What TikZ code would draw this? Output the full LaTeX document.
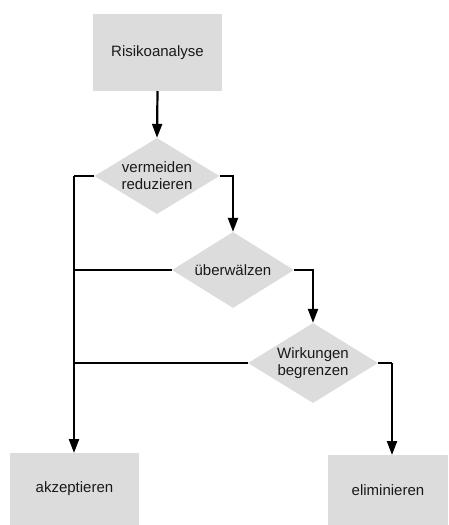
\documentclass[tikz,border=0pt]{standalone}
\usepackage{fontspec}
\setmainfont{Liberation Sans}
\usetikzlibrary{shapes.geometric,arrows.meta}
\definecolor{boxgray}{RGB}{220,220,220}
\begin{document}
\begin{tikzpicture}[x=1pt,y=-1pt,
  txt/.style={font=\fontsize{15}{17}\selectfont, text=black!90, align=center},
  rectbox/.style={txt, fill=boxgray, draw=none, inner sep=0pt},
  decision/.style={diamond, fill=boxgray, draw=none, inner sep=0pt},
  conn/.style={line width=2.2pt, line join=miter},
  arr/.style={conn, -{Triangle[width=10pt,length=14pt]}}]
\useasboundingbox (0,0) rectangle (448,525);
\node[rectbox, minimum width=129pt, minimum height=77pt] (risk) at (157.5,52.5) {Risikoanalyse};
\node[decision, minimum width=125pt, minimum height=76pt,
  label={[txt]center:vermeiden\\reduzieren}] (d1) at (157,176) {};
\node[decision, minimum width=122pt, minimum height=76pt,
  label={[txt]center:überwälzen}] (d2) at (233,270) {};
\node[decision, minimum width=130pt, minimum height=80pt,
  label={[txt]center:Wirkungen\\begrenzen}] (d3) at (313,363) {};
\node[rectbox, minimum width=129pt, minimum height=72pt] (akz) at (74.5,489) {akzeptieren};
\node[rectbox, minimum width=120pt, minimum height=70pt] (elim) at (388,490) {eliminieren};
\coordinate (left1) at (74,176);
\coordinate (akztop) at (74,453);
\coordinate (r3) at (392,363);
\coordinate (elimtop) at (392,455);
\draw[arr] (risk.south) -- (d1.north);
\draw[conn] (d1.west) -- (left1);
\draw[arr] (left1) -- (akztop);
\draw[arr] (d1.east) -| (d2.north);
\draw[conn] (d2.west) -- (74,270);
\draw[arr] (d2.east) -| (d3.north);
\draw[conn] (d3.west) -- (74,363);
\draw[conn] (d3.east) -- (r3);
\draw[arr] (r3) -- (elimtop);
\end{tikzpicture}
\end{document}
